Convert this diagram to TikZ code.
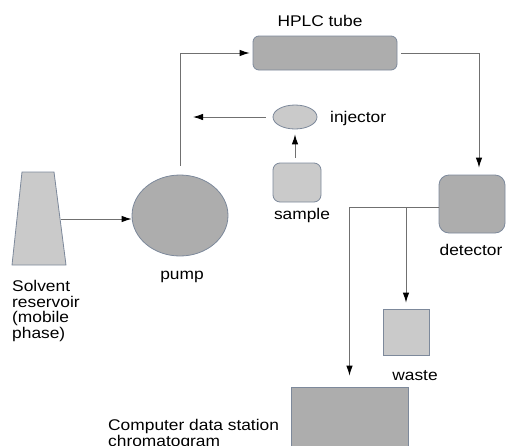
\documentclass[tikz,border=0pt]{standalone}
\usepackage{fontspec}
\setmainfont[FakeStretch=1.12]{Liberation Sans}
\usetikzlibrary{arrows.meta,shapes.geometric}
\definecolor{partdark}{HTML}{ADADAD}
\definecolor{partlight}{HTML}{CACACA}
\definecolor{partedge}{HTML}{7D899B}
\definecolor{pipegray}{HTML}{707070}
\tikzset{
	>={Latex[length=10pt,width=6.5pt,black]},   % filled black tips
	darkpart/.style={draw=partedge, fill=partdark, line width=0.8pt, inner sep=0pt},
	lightpart/.style={draw=partedge, fill=partlight, line width=0.8pt, inner sep=0pt},
	pipe/.style={->, draw=pipegray, line width=0.9pt},
	lbl/.style={inner sep=0pt, font=\fontsize{15.5}{15.6}\selectfont}
}
\begin{document}
\begin{tikzpicture}[x=1pt,y=-1pt]
		\clip (0,0) rectangle (506,445);
		
		% solvent reservoir (drawn as a path)
		\draw[lightpart] (22,172) -- (54,172) -- (66,265) -- (12,265) -- cycle;
		\coordinate (res) at (60.5,219);
		
		% parts of the instrument
		\node[darkpart, ellipse, minimum width=96pt, minimum height=81pt] (pump) at (180,215.5) {};
		\node[darkpart, rounded corners=6pt, minimum width=144pt, minimum height=34pt] (tube) at (325,53) {};
		\node[lightpart, ellipse, minimum width=44pt, minimum height=24pt] (inj) at (295,117) {};
		\node[lightpart, rounded corners=7pt, minimum width=48pt, minimum height=39pt] (sample) at (297,182.5) {};
		\node[darkpart, rounded corners=10pt, minimum width=66pt, minimum height=58pt] (det) at (472,204) {};
		\node[lightpart, minimum width=46pt, minimum height=46pt] (waste) at (406,332) {};
		\node[darkpart, minimum width=117pt, minimum height=90pt] (comp) at (349.5,432) {};
		
		% labels
		\node[lbl, anchor=base] (tubelbl) at (320,26) {HPLC tube};
		\node[lbl, anchor=base west] (injlbl) at (330,122) {injector};
		\node[lbl, anchor=base] (samplelbl) at (302,219) {sample};
		\node[lbl, anchor=base] (pumplbl) at (182,279) {pump};
		\node[lbl, anchor=base] (detlbl) at (471,255) {detector};
		\node[lbl, anchor=base] (wastelbl) at (415,380) {waste};
		\node[lbl, anchor=north west, align=left] (reslbl) at (12,280)
		{Solvent\\reservoir\\(mobile\\phase)};
		\node[lbl, anchor=north west, align=left] (complbl) at (108,419)
		{Computer data station\\chromatogram};
		
		% flow lines
		\coordinate (injout) at (193,117);
		\draw[pipe] (res) -- (pump.west |- res);
		\draw[pipe, shorten <=9pt, shorten >=3pt] (pump.north) |- (tube.west);
		\draw[pipe, shorten <=4pt, shorten >=7pt] (tube.east) -| ([xshift=7pt]det.north);
		\draw[pipe, shorten <=7pt] (inj.west) -- (injout);
		\draw[pipe, shorten <=5pt, shorten >=5pt] (inj.south |- sample.north) -- (inj.south);
		\draw[pipe, shorten >=11pt] ([yshift=-3pt]det.west) -| (comp.north);
		\draw[pipe, shorten >=6pt] ([yshift=-3pt]det.west -| waste.north) -- (waste.north);
		
	\end{tikzpicture}
\end{document}
